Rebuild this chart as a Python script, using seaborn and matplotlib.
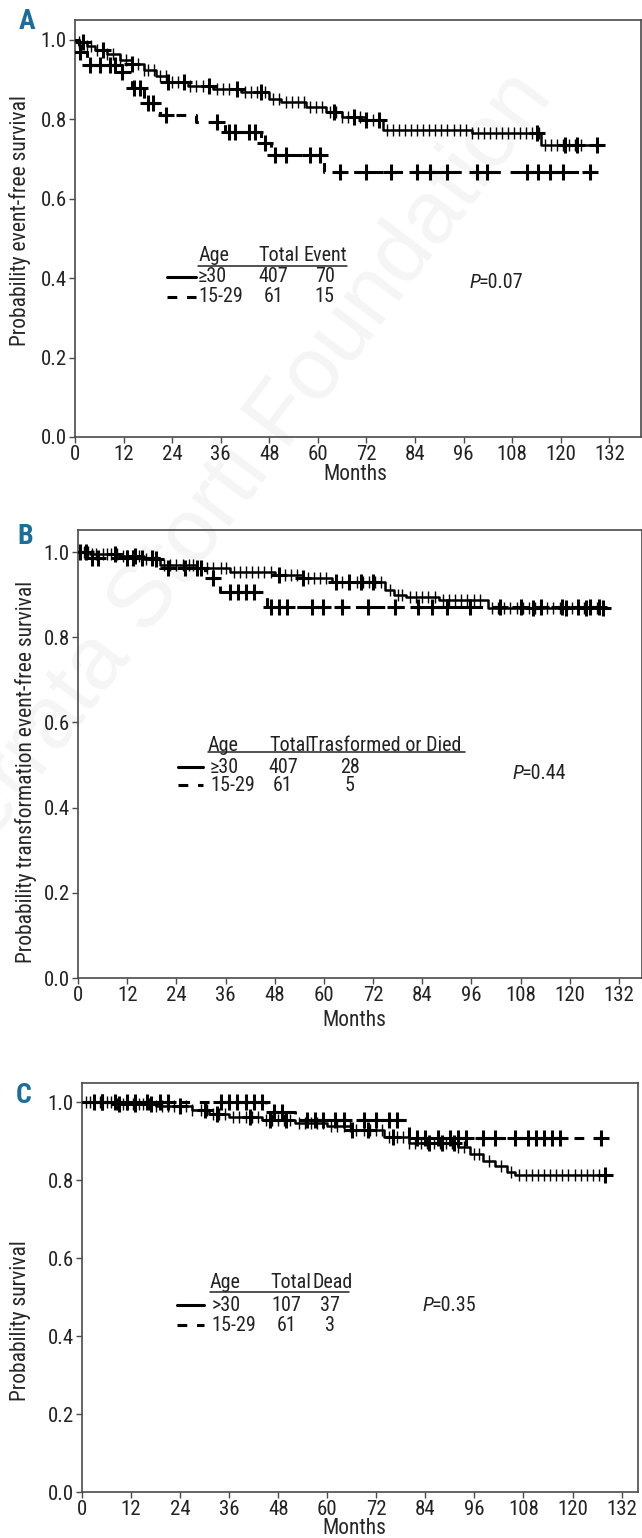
import numpy as np
import matplotlib
matplotlib.use("Agg")
import matplotlib.pyplot as plt
from matplotlib import font_manager
import seaborn as sns

# ---- data (months, survival probability) ----
# Panel A: event-free survival
A_old_t = [0, 1, 3, 5, 8, 11, 14, 17, 20, 23, 28, 34, 41, 48, 51, 57, 62, 66, 72, 76, 98, 115]
A_old_s = [1.0, 0.995, 0.985, 0.975, 0.965, 0.95, 0.94, 0.925, 0.91, 0.895, 0.885, 0.875,
           0.868, 0.852, 0.843, 0.83, 0.818, 0.805, 0.797, 0.773, 0.766, 0.735]
A_old_end = 130
A_old_cens = [1, 2, 3, 4, 5.5, 7, 8, 9.5, 11, 12.5, 14, 15.5, 17, 18, 19.5, 21, 22.5, 24, 25.5,
              27, 28.5, 30, 31.5, 33, 35, 36.5, 38, 40, 42, 43.5, 45, 47, 49, 50.5, 52, 53.5,
              55, 56.5, 58, 59.5, 61, 63, 64.5, 66, 67.5, 69, 70.5, 72, 73.5, 75, 77, 78.5, 80,
              81.5, 83, 84.5, 86, 87.5, 89, 90.5, 92, 93.5, 95, 96.5, 98, 99.5, 101, 102.5, 104,
              105.5, 107, 108.5, 110, 111.5, 113, 114.5, 116, 117.5, 119, 120.5, 122, 123.5, 125]
A_old_plus = [2, 7, 14, 23, 27, 33, 40, 46, 64, 69, 72, 75, 114, 121, 124, 129]
A_young_t = [0, 1, 3, 11, 14, 17, 21, 30, 37, 46, 48.5, 61.5]
A_young_s = [1.0, 0.97, 0.937, 0.919, 0.879, 0.841, 0.811, 0.793, 0.768, 0.741, 0.710, 0.667]
A_young_end = 128
A_young_cens = [1.2, 3.7, 6.2, 8.6, 10, 11.5, 14.5, 16, 18, 19.3, 22.5, 35, 38, 39.5, 43, 44.5,
                47, 49.5, 52, 58, 60.5, 65.4, 72, 78, 84.4, 87.6, 91.8, 99.3, 101.7, 111.6,
                114.3, 117.3, 120.5, 127.2]

# Panel B: transformation event-free survival
B_old_t = [0, 3, 10, 16, 20, 29, 37, 48, 55, 62, 75, 77, 80, 88, 100]
B_old_s = [1.0, 0.995, 0.99, 0.985, 0.969, 0.962, 0.953, 0.946, 0.939, 0.930, 0.911, 0.899,
           0.894, 0.887, 0.869]
B_old_end = 129
B_old_cens = [0.5, 1.5, 2.5, 3.5, 4.5, 6, 7, 8, 9.5, 11, 12, 13.5, 15, 16.5, 18, 19, 21, 22.5,
              24, 25.5, 27, 28, 30, 31.5, 33, 35, 36, 38, 39.5, 41, 42.5, 44, 45.5, 47, 49, 50.5,
              52, 53.5, 56, 57.5, 59, 60.5, 63, 64.5, 66, 68, 69.5, 71, 72.5, 74, 76, 78, 79, 81,
              82.5, 84, 85.5, 87, 89, 90.5, 92, 93.5, 95, 96.5, 98, 101, 102.5, 104, 105.5, 107,
              108.5, 110, 111.5, 113, 114.5, 116, 117.5, 119, 120.5, 122, 123.5, 125, 126.5, 128]
B_old_plus = [2, 9, 14, 19, 30, 49, 55, 63, 66, 69, 72, 111, 119, 124, 128]
B_young_t = [0, 2, 20, 31, 34.6, 46]
B_young_s = [1.0, 0.986, 0.962, 0.939, 0.906, 0.871]
B_young_end = 127
B_young_cens = [0.5, 3.4, 5, 12, 13.5, 15.6, 18, 22, 26, 29, 33, 37, 39, 41, 43, 47, 49, 51, 57,
                59.7, 64.3, 70.7, 77.3, 83, 86.3, 90, 95.6, 103, 108, 113, 118, 122, 125, 127]

# Panel C: overall survival
C_old_t = [0, 8, 18, 27, 31, 36, 44, 52, 60, 66, 74, 80, 92, 95, 98, 101, 104, 106]
C_old_s = [1.0, 0.995, 0.99, 0.98, 0.97, 0.962, 0.955, 0.945, 0.938, 0.928, 0.91, 0.895, 0.885,
           0.866, 0.85, 0.835, 0.82, 0.812]
C_old_end = 128
C_old_cens = [1, 2, 3, 4.5, 6, 7, 8.5, 10, 11, 12.5, 14, 15, 16.5, 18, 19.5, 21, 22.5, 24, 25.5,
              27, 29, 30.5, 32, 33.5, 35, 37, 38.5, 40, 41.5, 43, 45, 46.5, 48, 49.5, 51, 53,
              54.5, 56, 57.5, 59, 61, 62.5, 64, 65.5, 67, 69, 70.5, 72, 73.5, 75, 77, 78.5, 80,
              81.5, 83, 84.5, 86, 87.5, 89, 90.5, 92, 93.5, 96, 97, 99.5, 102.5, 105, 107, 108.5,
              110, 111.5, 113, 114.5, 116, 117.5, 119, 120.5, 122, 123.5, 125, 126.5, 128]
C_old_plus = [5, 9, 13, 17, 24, 30, 33, 41, 46, 50, 66, 70, 76, 85, 88, 91, 128]
C_young_t = [0, 45, 52, 80]
C_young_s = [1.0, 0.974, 0.954, 0.908]
C_young_end = 127
C_young_cens = [3, 5, 8, 11, 13, 16, 19, 21, 34, 36, 38, 40, 42, 44, 47, 49, 55, 57, 59, 62, 64,
                69, 72, 75, 77, 82, 84, 87, 90, 92, 94, 98, 101, 106, 109, 111, 113, 115, 117, 127]

legend_A = [["\u226530", "407", "70"], ["15-29", "61", "15"]]
legend_B = [["\u226530", "407", "28"], ["15-29", "61", "5"]]
legend_C = [[">30", "107", "37"], ["15-29", "61", "3"]]
ylabels = ["Probability event-free survival",
           "Probability transformation event-free survival",
           "Probability survival"]
pvals = ["=0.07", "=0.44", "=0.35"]

sns.set_theme(style="ticks")

# the reference uses a condensed grotesque; take the first condensed face installed
installed = {f.name for f in font_manager.fontManager.ttflist}
condensed = ["Roboto Condensed", "Liberation Sans Narrow", "Arial Narrow",
             "Noto Sans Condensed", "Noto Sans SemiCondensed", "Open Sans Condensed",
             "DejaVu Sans Condensed"]
main_font = next((f for f in condensed if f in installed), None)
if main_font is None:
    main_font = "Roboto"
    scale = 0.84
else:
    scale = 1.0
plt.rcParams["font.family"] = [main_font, "DejaVu Sans"]
plt.rcParams["axes.edgecolor"] = "#4a4a4a"
plt.rcParams["axes.linewidth"] = 1.2
plt.rcParams["xtick.color"] = "#4a4a4a"
plt.rcParams["ytick.color"] = "#4a4a4a"
plt.rcParams["xtick.labelcolor"] = "#222222"
plt.rcParams["ytick.labelcolor"] = "#222222"

FS_TICK = 15 * scale
FS_LAB = 15.5 * scale
FS_LEG = 14.5 * scale
DASH = (0, (3.2, 3.2))
LETTER = "#1b6e99"


def step_at(ts, ss, t):
    i = np.searchsorted(ts, t, side="right") - 1
    return ss[max(i, 0)]


def draw_curve(ax, ts, ss, end, cens, plus, ls, lw):
    x = list(ts) + [end]
    y = list(ss) + [ss[-1]]
    sns.lineplot(x=x, y=y, drawstyle="steps-post", estimator=None, sort=False,
                 color="black", linewidth=lw, linestyle=ls, ax=ax, zorder=3)
    if cens:
        cy = [step_at(ts, ss, c) for c in cens]
        sns.scatterplot(x=cens, y=cy, marker="|", s=70, linewidth=1.0, color="black",
                        ax=ax, zorder=4)
    if plus:
        py = [step_at(ts, ss, c) for c in plus]
        sns.scatterplot(x=plus, y=py, marker="+", s=120, linewidth=2.2, color="black",
                        ax=ax, zorder=4)


fig = plt.figure(figsize=(6.42, 15.38), dpi=100)
fig.patch.set_facecolor("white")

# faint journal watermark, drawn underneath everything
fig.text(0.37, 0.69, "Ferrata Storti Foundation", rotation=53, fontsize=64,
         color="#f5f5f5", ha="center", va="center", zorder=-10,
         family=["Liberation Sans", "DejaVu Sans"])

positions = [
    [0.1168, 0.7159, 0.8816, 0.2711],
    [0.1215, 0.3641, 0.8785, 0.2913],
    [0.1277, 0.0299, 0.8660, 0.2660],
]
xmaxes = [139.8, 137.6, 136.0]
ytops = [1.05, 1.052, 1.049]
axes = [fig.add_axes(p) for p in positions]
for ax in axes:
    ax.set_facecolor("none")
    ax.set_zorder(1)

panels = [
    (A_old_t, A_old_s, A_old_end, A_old_cens, A_old_plus,
     A_young_t, A_young_s, A_young_end, A_young_cens),
    (B_old_t, B_old_s, B_old_end, B_old_cens, B_old_plus,
     B_young_t, B_young_s, B_young_end, B_young_cens),
    (C_old_t, C_old_s, C_old_end, C_old_cens, C_old_plus,
     C_young_t, C_young_s, C_young_end, C_young_cens),
]

for k, ax in enumerate(axes):
    ot, os_, oe, oc, op, yt, ys, ye, yc = panels[k]
    draw_curve(ax, ot, os_, oe, oc, op, "-", 1.8)
    draw_curve(ax, yt, ys, ye, None, yc, DASH, 2.2)
    ax.set_xlim(0, xmaxes[k])
    ax.set_ylim(0, ytops[k])
    ax.set_xticks(np.arange(0, 133, 12))
    ax.set_yticks(np.arange(0, 1.01, 0.2))
    ax.set_yticklabels([f"{v:.1f}" for v in np.arange(0, 1.01, 0.2)])
    ax.tick_params(direction="out", length=4, width=1, labelsize=FS_TICK, pad=2)
    ax.set_xlabel("Months", fontsize=FS_LAB)
    ax.set_ylabel(ylabels[k], fontsize=FS_LAB)
    for sp in ax.spines.values():
        sp.set_visible(True)

axes[0].xaxis.set_label_coords(0.495, -0.066)
axes[1].xaxis.set_label_coords(0.49, -0.072)
axes[2].xaxis.set_label_coords(0.49, -0.064)
axes[0].yaxis.set_label_coords(-0.078, 0.52)
axes[1].yaxis.set_label_coords(-0.073, 0.46)
axes[2].yaxis.set_label_coords(-0.092, 0.42)

# panel letters
for (x, y), letter in zip([(0.042, 0.986), (0.039, 0.651), (0.037, 0.288)], "ABC"):
    fig.text(x, y, letter, fontsize=20, fontweight="bold", color=LETTER,
             ha="center", va="center")


def legend_table(ax, rows, header, hx, hy, ux, uy, rx, ry, nx, sx):
    for txt, x in zip(header, hx):
        ax.text(x, hy, txt, fontsize=FS_LEG, ha="left", va="center", color="#222222")
    ax.plot(ux, [uy, uy], color="#222222", lw=1.1)
    for i, row in enumerate(rows):
        ax.text(rx, ry[i], row[0], fontsize=FS_LEG, ha="left", va="center", color="#222222")
        ax.text(nx[0], ry[i], row[1], fontsize=FS_LEG, ha="center", va="center",
                color="#222222")
        ax.text(nx[1], ry[i], row[2], fontsize=FS_LEG, ha="center", va="center",
                color="#222222")
    ax.plot(sx, [ry[0], ry[0]], color="black", lw=2.2, ls="-")
    ax.plot(sx, [ry[1], ry[1]], color="black", lw=2.2, ls=DASH)


def p_label(ax, x, y, txt):
    ax.text(x, y, "P", fontsize=FS_LEG, style="italic", ha="left", va="center",
            color="#222222")
    ax.annotate(txt, (x, y), xytext=(9, 0), textcoords="offset pixels", fontsize=FS_LEG,
                ha="left", va="center", color="#222222")


legend_table(axes[0], legend_A, ["Age", "Total", "Event"], [30.4, 45.2, 56.5], 0.458,
             [30.4, 67.2], 0.431, 30.4, [0.403, 0.353], [49.1, 61.7], [22.7, 29.9])
p_label(axes[0], 97.5, 0.388, pvals[0])

legend_table(axes[1], legend_B, ["Age", "Total", "Trasformed or Died"], [31.7, 46.8, 56.0],
             0.547, [31.7, 94.4], 0.531, 32.2, [0.495, 0.453], [50.0, 66.3], [24.4, 30.5])
p_label(axes[1], 105.9, 0.481, pvals[1])

legend_table(axes[2], legend_C, ["Age", "Total", "Dead"], [31.3, 46.0, 56.5], 0.536,
             [31.3, 65.3], 0.513, 31.6, [0.479, 0.428], [50.1, 60.6], [23.2, 29.8])
p_label(axes[2], 83.4, 0.479, pvals[2])

fig.savefig("out.png", dpi=100, facecolor="white")
